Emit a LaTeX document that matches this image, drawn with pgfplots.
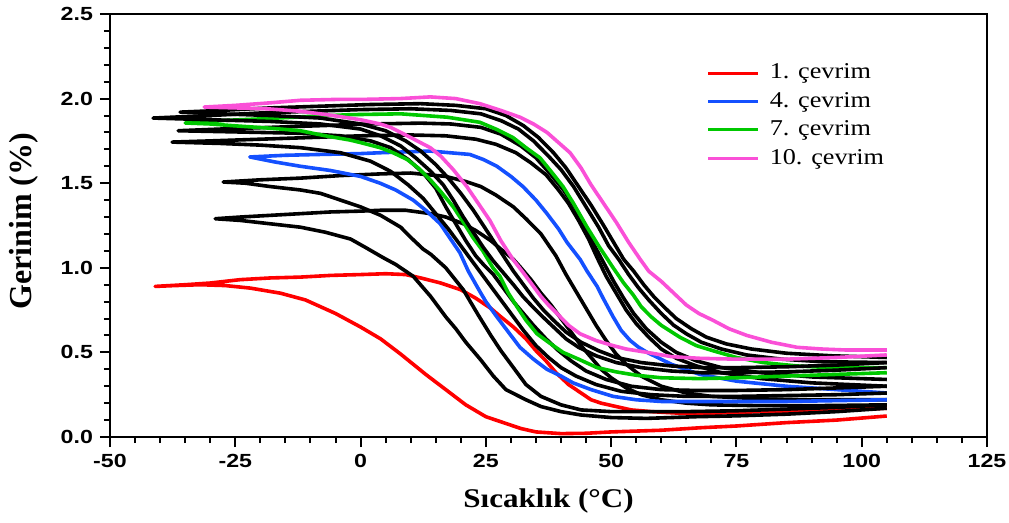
\documentclass[border=0pt]{standalone}
\usepackage{pgfplots}
\pgfplotsset{compat=1.18}
\usepackage{fontspec}
\setmainfont{Liberation Serif}
\newfontfamily\tickfont[FakeStretch=1.22]{Liberation Sans}
\newfontfamily\legfont[FakeStretch=1.16]{Liberation Serif}
\newfontfamily\labfont[FakeStretch=1.15]{Liberation Serif}

\definecolor{cyc1}{RGB}{255,0,0}
\definecolor{cyc4}{RGB}{20,80,255}
\definecolor{cyc7}{RGB}{0,200,0}
\definecolor{cyc10}{RGB}{250,80,215}

\begin{document}
\begin{tikzpicture}
\begin{axis}[
  scale only axis, width=438.5pt, height=211.5pt,
  xmin=-50, xmax=125, ymin=0, ymax=2.5,
  xtick={-50,-25,0,25,50,75,100,125},
  xticklabels={-50,-25,0,25,50,75,100,125},
  ytick={0,0.5,1,1.5,2,2.5},
  yticklabels={0.0,0.5,1.0,1.5,2.0,2.5},
  minor x tick num=4, minor y tick num=4,
  tick align=outside, tick pos=left,
  major tick length=5pt, minor tick length=3pt,
  tick style={black, line width=1pt},
  axis line style={line width=1.2pt},
  ticklabel style={font=\tickfont\bfseries\fontsize{9.5}{11}\selectfont},
  xlabel={Sıcaklık (°C)}, ylabel={Gerinim (\%)},
  xlabel style={font=\labfont\bfseries\fontsize{13.5}{16}\selectfont,
    at={(axis description cs:0.5,-0.151)}, anchor=center},
  ylabel style={font=\bfseries\fontsize{16}{18}\selectfont,
    at={(axis description cs:-0.0986,0.51)}, anchor=center},
  legend style={draw=none, fill=none, at={(axis description cs:0.68,0.895)},
    anchor=north west, font=\legfont\fontsize{11.3}{13}\selectfont,
    row sep=0pt, inner sep=0pt, column sep=4pt,
    nodes={inner sep=1pt, text height=9pt, text depth=3.2pt}},
  legend cell align=left,
  legend image code/.code={\draw[#1, line width=1.5pt] (0pt,0pt) -- (25pt,0pt);},
  every axis plot/.append style={line width=1.8pt, line join=round},
]
\coordinate (ll) at (rel axis cs:0,0);
\coordinate (ur) at (rel axis cs:1,1);

% cycle 1
\addplot[cyc1] coordinates {
(105,0.124) (95,0.10) (85,0.085) (75,0.065) (68,0.055) (60,0.04) (50,0.03) (45,0.022) (40,0.02) (35,0.03) (32,0.05) (29,0.08) (25,0.12) (21,0.19) (17,0.28) (13,0.37) (8,0.49) (4,0.58) (0,0.65) (-5,0.73) (-11,0.81) (-16,0.85) (-22,0.88) (-27,0.895) (-32,0.90) (-37,0.895) (-41,0.89)
(-35,0.90) (-30,0.91) (-24,0.93) (-18,0.94) (-12,0.945) (-6,0.955) (0,0.96) (5,0.965) (9,0.96) (12,0.94) (16,0.91) (20,0.87) (23,0.82) (26,0.76) (28,0.71) (30.5,0.65) (33,0.58) (35,0.51) (37,0.45) (39,0.38) (41.5,0.31) (44,0.26) (46,0.22) (48,0.20) (51,0.18) (54,0.16) (58,0.15) (64,0.14) (70,0.14) (80,0.15) (90,0.155) (100,0.165) (105,0.17)
};
\addlegendentry{1. çevrim}

% cycle 2
\addplot[black, forget plot] coordinates {
(105,0.17) (95,0.15) (85,0.135) (75,0.125) (67,0.12) (57,0.11) (50,0.115) (44,0.13) (40,0.15) (36,0.18) (33,0.22) (29,0.28) (26.5,0.36) (24,0.455) (21,0.56) (19,0.64) (17,0.71) (14,0.83) (10.5,0.95) (7,1.02) (4.5,1.06) (1,1.12) (-2,1.17) (-7,1.21) (-12,1.24) (-18,1.26) (-24,1.28) (-29,1.29)
(-24,1.30) (-18,1.31) (-12,1.32) (-6,1.33) (0,1.335) (4,1.34) (9,1.34) (14,1.32) (17,1.30) (20.5,1.26) (23,1.22) (26,1.16) (28,1.11) (30.5,1.05) (32,1.00) (34,0.93) (36,0.85) (38,0.78) (40,0.70) (42,0.62) (44,0.54) (46,0.47) (48,0.40) (50,0.35) (53,0.29) (56,0.25) (60,0.22) (65,0.20) (70,0.19) (80,0.185) (90,0.185) (105,0.19)
};

% cycle 3
\addplot[black, forget plot] coordinates {
(105,0.19) (95,0.175) (85,0.165) (75,0.155) (65,0.15) (57,0.15) (50,0.15) (44,0.16) (40,0.19) (36,0.24) (33,0.31) (30.5,0.41) (28,0.51) (26,0.60) (23.5,0.72) (20.5,0.87) (17,1.0) (14,1.08) (12.5,1.11) (10,1.18) (8,1.24) (4,1.31) (0,1.36) (-4,1.40) (-8,1.44) (-12,1.46) (-18,1.48) (-23,1.50) (-27.4,1.507)
(-20,1.52) (-12,1.53) (-4,1.545) (4,1.555) (10,1.56) (17,1.54) (21,1.51) (24,1.48) (27,1.43) (30.5,1.36) (33,1.29) (36,1.20) (39,1.07) (41,0.96) (43,0.86) (45,0.76) (47,0.66) (49,0.57) (51,0.49) (53,0.43) (56,0.36) (60,0.30) (65,0.26) (70,0.24) (80,0.225) (90,0.22) (105,0.22)
};

% cycle 4
\addplot[cyc4] coordinates {
(105,0.22) (95,0.215) (85,0.21) (75,0.21) (67.7,0.21) (60,0.21) (55,0.22) (50.4,0.24) (46,0.28) (42.4,0.32) (40,0.36) (37.2,0.40) (34.5,0.46) (31.8,0.53) (29.5,0.62) (27.2,0.71) (25,0.80) (23.8,0.86) (21.5,0.98) (19.8,1.09) (17.5,1.19) (15.9,1.26) (13,1.34) (10.5,1.40) (7,1.46) (3.9,1.50) (0,1.54) (-6,1.575) (-12,1.60) (-17,1.625) (-22.1,1.655)
(-15,1.665) (-8,1.67) (0,1.675) (3.9,1.68) (13.9,1.69) (21.8,1.67) (24.5,1.64) (27.2,1.60) (30,1.54) (32.4,1.48) (35,1.40) (37.2,1.32) (39.5,1.23) (41.2,1.15) (43.8,1.05) (45.2,0.98) (47.2,0.89) (48.4,0.82) (50.4,0.71) (52,0.63) (53.8,0.57) (55.5,0.53) (57.2,0.50) (62,0.43) (67.7,0.37) (75,0.33) (85,0.30) (95,0.28) (105,0.26)
};
\addlegendentry{4. çevrim}

% cycle 5
\addplot[black, forget plot] coordinates {
(105,0.26) (95,0.25) (85,0.245) (75,0.24) (65,0.24) (58,0.25) (52,0.27) (47,0.31) (43,0.36) (40,0.41) (37.5,0.47) (35,0.54) (32.5,0.63) (30,0.73) (28,0.81) (26,0.89) (24,0.97) (22,1.05) (20,1.13) (17.5,1.23) (15,1.32) (12.5,1.41) (9.5,1.49) (6,1.57) (2,1.63) (-4,1.68) (-12,1.71) (-20,1.725) (-28,1.735) (-37.6,1.743)
(-30,1.75) (-20,1.76) (-10,1.77) (0,1.78) (10,1.785) (17,1.78) (23,1.76) (27,1.73) (31,1.68) (34,1.62) (37,1.55) (39.5,1.46) (41.5,1.38) (43.5,1.28) (45.5,1.17) (47.2,1.06) (49,0.95) (51,0.85) (53,0.75) (55,0.67) (57.5,0.59) (60,0.52) (63,0.465) (67,0.42) (72,0.38) (80,0.345) (90,0.32) (105,0.30)
};

% cycle 6
\addplot[black, forget plot] coordinates {
(105,0.30) (95,0.29) (85,0.28) (75,0.275) (67,0.275) (60,0.28) (54,0.30) (49,0.34) (45,0.39) (42,0.45) (39.5,0.51) (37,0.58) (34.5,0.66) (32.5,0.73) (30.5,0.80) (28.5,0.88) (26.5,0.96) (24.5,1.02) (23,1.07) (21,1.16) (19,1.26) (17,1.36) (15,1.47) (12.5,1.56) (9.5,1.64) (6,1.71) (2,1.75) (-4,1.78) (-12,1.795) (-20,1.80) (-28,1.805) (-36.4,1.81)
(-28,1.82) (-18,1.83) (-8,1.84) (2,1.85) (12,1.855) (18,1.85) (24,1.83) (28,1.79) (32,1.72) (35,1.65) (38,1.55) (40.5,1.46) (42.5,1.37) (44.5,1.26) (46.5,1.14) (48.5,1.03) (50.5,0.92) (52.5,0.82) (54.5,0.73) (57,0.64) (60,0.56) (63,0.50) (67,0.45) (72,0.41) (80,0.38) (90,0.355) (105,0.34)
};

% cycle 7
\addplot[cyc7] coordinates {
(105,0.38) (95,0.37) (85,0.36) (75,0.35) (67.7,0.345) (60,0.35) (55,0.365) (51,0.385) (47.2,0.41) (43.5,0.46) (40.4,0.50) (37.5,0.56) (35.2,0.61) (33,0.69) (31.2,0.77) (29.5,0.85) (27.8,0.95) (26.4,1.0) (24.4,1.1) (22.4,1.18) (20.5,1.27) (18.5,1.36) (16,1.45) (13.9,1.52) (11.5,1.59) (9.3,1.64) (6.5,1.68) (3.9,1.71) (0,1.74) (-2.1,1.755) (-7,1.78) (-12,1.81) (-18,1.825) (-25.5,1.84) (-30,1.85) (-35,1.856)
(-28,1.87) (-20,1.88) (-10,1.895) (-2,1.905) (8,1.91) (17.3,1.89) (23.8,1.86) (27,1.82) (30.4,1.77) (33,1.71) (35.8,1.65) (38,1.57) (40.4,1.48) (42.5,1.38) (45.2,1.24) (47.5,1.13) (50.4,1.0) (52.5,0.91) (54.4,0.84) (56,0.77) (58,0.71) (60,0.66) (63.7,0.59) (67,0.54) (70.3,0.51) (75,0.47) (80.3,0.44) (87,0.42) (93.7,0.41) (105,0.41)
};
\addlegendentry{7. çevrim}

% cycle 8
\addplot[black, forget plot] coordinates {
(105,0.41) (95,0.395) (85,0.385) (75,0.38) (68,0.38) (62,0.39) (56,0.41) (51,0.44) (47,0.48) (43.5,0.53) (41,0.58) (38.5,0.65) (36,0.72) (34,0.78) (32.4,0.83) (30.5,0.90) (28.5,0.97) (26.5,1.04) (24.5,1.12) (22.5,1.21) (20.5,1.30) (18.5,1.40) (16.5,1.49) (14,1.57) (11,1.65) (8,1.72) (4,1.78) (0,1.82) (-8,1.85) (-18,1.865) (-30,1.875) (-41.4,1.885)
(-30,1.90) (-20,1.915) (-10,1.925) (0,1.935) (10,1.94) (18,1.93) (24,1.91) (28,1.87) (31.5,1.82) (34.5,1.75) (37.5,1.66) (40,1.58) (42.5,1.48) (45,1.36) (47.5,1.24) (49.5,1.13) (51.5,1.05) (53.5,0.96) (55.5,0.88) (57.5,0.81) (60,0.73) (62.5,0.66) (65,0.61) (68,0.56) (72,0.52) (77,0.485) (84,0.46) (92,0.445) (105,0.44)
};

% cycle 9
\addplot[black, forget plot] coordinates {
(105,0.44) (95,0.425) (85,0.415) (75,0.41) (68,0.41) (62,0.42) (56,0.44) (51,0.47) (47.5,0.51) (44,0.56) (41,0.62) (38.5,0.69) (36.5,0.75) (34.5,0.82) (32.5,0.90) (30.5,0.98) (28.5,1.07) (26.5,1.16) (24.5,1.25) (22.5,1.34) (20,1.44) (17.5,1.53) (15,1.61) (12,1.69) (9,1.75) (5,1.81) (0,1.85) (-8,1.885) (-18,1.90) (-28,1.91) (-36,1.92)
(-28,1.93) (-18,1.945) (-8,1.955) (2,1.965) (12,1.97) (19,1.96) (25,1.94) (29,1.90) (32.5,1.84) (35.5,1.77) (38.5,1.68) (41,1.59) (43.5,1.48) (46,1.37) (48.5,1.25) (50.5,1.15) (52.5,1.05) (54.5,0.98) (56.5,0.90) (58.5,0.83) (60.5,0.77) (63,0.70) (66,0.64) (69,0.59) (73,0.55) (78,0.52) (85,0.495) (94,0.48) (105,0.47)
};

% cycle 10
\addplot[cyc10] coordinates {
(105,0.485) (95,0.47) (85,0.46) (75,0.46) (67.7,0.465) (62,0.475) (57.2,0.50) (53,0.52) (50.4,0.54) (47,0.57) (43.8,0.61) (41.5,0.66) (39.2,0.73) (37.5,0.78) (36,0.83) (34.5,0.89) (32.5,0.97) (30.4,1.05) (28,1.16) (25.8,1.28) (23.5,1.38) (21.2,1.48) (18.5,1.58) (16,1.66) (13.9,1.71) (10,1.77) (6,1.83) (3.9,1.85) (0,1.875) (-5.5,1.90) (-12,1.925) (-18.7,1.94) (-25,1.945) (-31.2,1.95)
(-25,1.96) (-18,1.975) (-12,1.99) (-5,1.995) (0,1.995) (7.9,2.0) (13.9,2.01) (19,2.0) (23.8,1.97) (28,1.93) (31.8,1.89) (34.5,1.85) (37.2,1.80) (39.5,1.74) (41.8,1.68) (44,1.59) (46,1.49) (48.5,1.38) (51,1.27) (53.5,1.15) (55.8,1.05) (57.5,0.98) (60,0.92) (62.5,0.85) (65,0.78) (67.5,0.73) (70.3,0.69) (73.5,0.64) (77.1,0.60) (82,0.56) (87.1,0.53) (92,0.52) (97,0.514) (105,0.514)
};
\addlegendentry{10. çevrim}
\end{axis}
\pgfresetboundingbox
\path[use as bounding box] ([shift={(-55pt,-43pt)}]ll) rectangle ([shift={(11pt,7pt)}]ur);
\end{tikzpicture}
\end{document}
